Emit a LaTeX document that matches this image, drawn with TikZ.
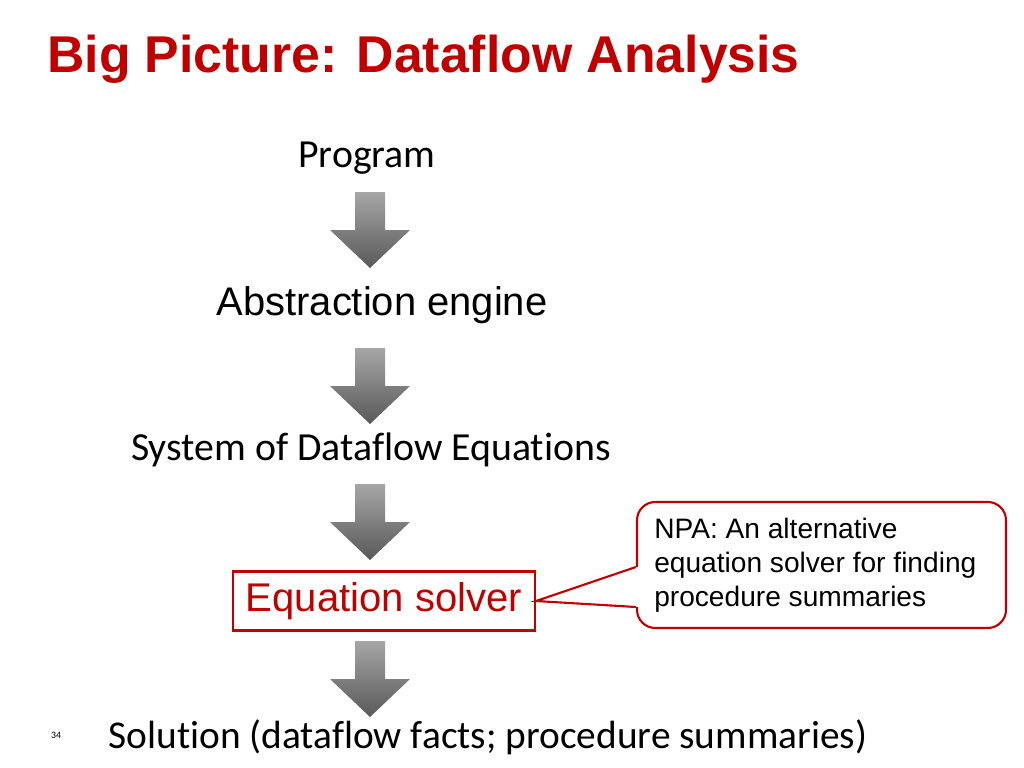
\documentclass[tikz,border=0pt]{standalone}
\usepackage{fontspec}
\setmainfont{Carlito}[Ligatures={NoCommon}]
\newfontfamily\arialfont{Liberation Sans}
\usetikzlibrary{positioning}
\definecolor{slidered}{RGB}{192,0,0}

\tikzset{
  steptext/.style={font=\fontsize{28.3}{32}\selectfont, inner sep=0pt},
  solverbox/.style={draw=slidered, line width=1.5pt, text=slidered, font=\arialfont\fontsize{28.5}{32}\selectfont,
                    minimum width=302*0.025cm, minimum height=59*0.025cm, inner sep=0pt},
  notebox/.style={draw=slidered, line width=1.5pt, rounded corners=13pt, fill=white,
                  minimum width=369*0.025cm, minimum height=126*0.025cm},
  flowarrow/.style={top color=black!35, bottom color=black!65, draw=none}
}

\begin{document}
\begin{tikzpicture}[x=0.025cm, y=-0.025cm]
  \useasboundingbox (0,0) rectangle (1024,768);

  \node[anchor=base west, inner sep=0pt, text=slidered, font=\arialfont\bfseries\fontsize{36.8}{40}\selectfont] (title) at (47,73) {Big Picture: Dataflow Analysis};

  \node[steptext] (prog) at (367,158) {Program};
  \node[steptext, font=\arialfont\fontsize{28.4}{32}\selectfont] (abs) at (382,305) {Abstraction engine};
  \node[steptext] (sys) at (371,450) {System of Dataflow Equations};
  \node[solverbox] (solver) at (384,601) {Equation solver};
  \node[steptext, font=\fontsize{28}{32}\selectfont] (sol) at (488,737) {Solution (dataflow facts; procedure summaries)};
  \node[inner sep=0pt, font=\fontsize{7}{8}\selectfont] (page) at (56,735) {34};

  % gray block arrows between the steps
  \foreach \t in {192,348,484,641}
    \path[flowarrow] (355,\t) -- (385,\t) -- (385,\t+38) -- (410,\t+38) -- (370,\t+76)
                     -- (330,\t+38) -- (355,\t+38) -- cycle;

  % callout
  \node[notebox] (note) at (821.5,565) {};
  \fill[white] (solver.east) -- (note.west |- 0,565) -- (note.west |- 0,609) -- cycle;
  \fill[white] (635,567) rectangle (640,607);
  \draw[slidered, line width=1.5pt] (note.west |- 0,567) -- (solver.east) -- (note.west |- 0,607);
  \node[anchor=north west, align=left, inner sep=0pt, font=\arialfont\fontsize{20}{24}\selectfont] (notetext) at (654,518)
    {NPA: An alternative\\equation solver for finding\\procedure summaries};
\end{tikzpicture}
\end{document}
